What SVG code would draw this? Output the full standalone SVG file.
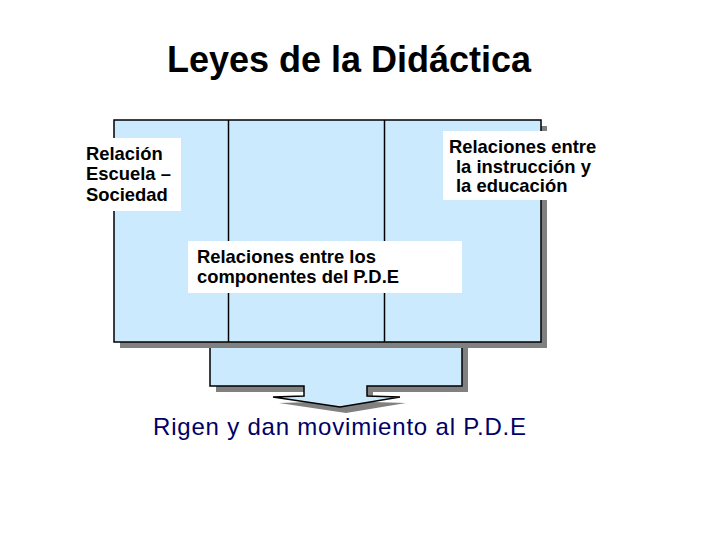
<svg xmlns="http://www.w3.org/2000/svg" width="720" height="540" viewBox="0 0 720 540">
<style>
.shadow{fill:#808080;stroke:none}
.panel{fill:#CCEAFE;stroke:#000;stroke-width:1.5}
.div{stroke:#000;stroke-width:1.5;fill:none}
.lblbg{fill:#fff;stroke:none}
.lbl{font-family:"Liberation Sans",Arial,sans-serif;font-size:18.4px;font-weight:bold;fill:#000}
.title{font-family:"Liberation Sans",Arial,sans-serif;font-size:36px;font-weight:bold;fill:#000}
.foot{font-family:"Liberation Sans",Arial,sans-serif;font-size:24px;fill:#000066}
</style>
<rect width="720" height="540" fill="#fff"/>
<g id="title"><text class="title" x="349" y="72" text-anchor="middle">Leyes de la Didáctica</text></g>
<g id="connectors">
<polygon class="shadow" points="216,348 468,348 468,392 373,392 373,402 406,403 346,413 279,403 310,402 310,392 216,392"/>
<polygon class="panel" points="210,342 462,342 462,386 367,386 367,396 400,397 340,407 273,397 304,396 304,386 210,386"/>
</g>
<g id="main-box">
<rect class="shadow" x="120" y="126" width="427" height="222"/>
<rect class="panel" x="114" y="120" width="427" height="222"/>
<line class="div" x1="228.5" y1="120" x2="228.5" y2="342"/>
<line class="div" x1="384.5" y1="120" x2="384.5" y2="342"/>
</g>
<g id="label-escuela">
<rect class="lblbg" x="80" y="138" width="101" height="73"/>
<text class="lbl" x="86" y="160">Relación</text>
<text class="lbl" x="86" y="180">Escuela –</text>
<text class="lbl" x="86" y="201">Sociedad</text>
</g>
<g id="label-instruccion">
<rect class="lblbg" x="443" y="131" width="162" height="69"/>
<text class="lbl" x="449" y="153">Relaciones entre</text>
<text class="lbl" x="456" y="173">la instrucción y</text>
<text class="lbl" x="456" y="192">la educación</text>
</g>
<g id="label-componentes">
<rect class="lblbg" x="188" y="241" width="274" height="52"/>
<text class="lbl" x="197" y="263">Relaciones entre los</text>
<text class="lbl" x="197" y="283">componentes del P.D.E</text>
</g>
<g id="footer"><text class="foot" x="153" y="435" textLength="373" lengthAdjust="spacing">Rigen y dan movimiento al P.D.E</text></g>
</svg>
